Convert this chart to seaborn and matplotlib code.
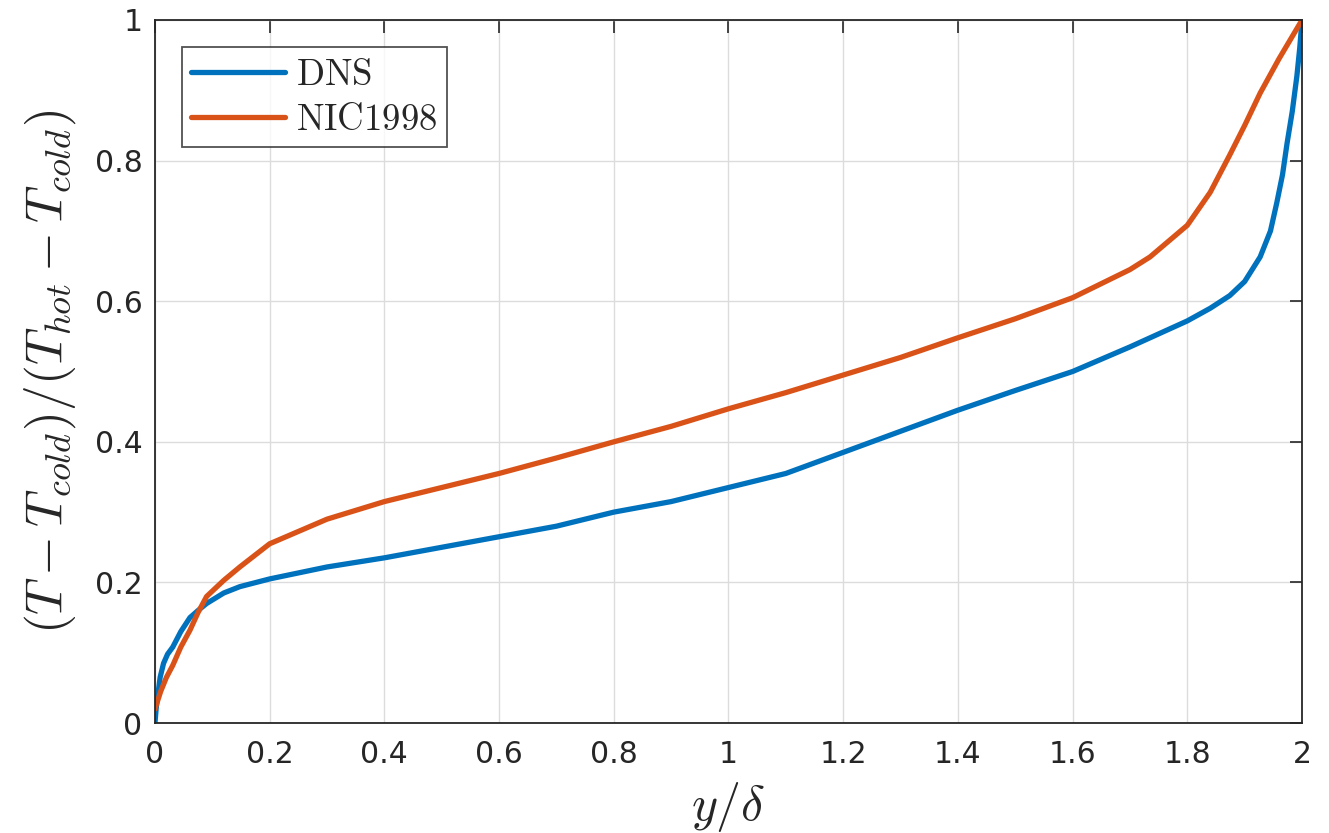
import numpy as np
import pandas as pd
import matplotlib
matplotlib.use("Agg")
import matplotlib.pyplot as plt
import seaborn as sns

# DNS profile
dns_x = [0.0, 0.002, 0.005, 0.009, 0.015, 0.022, 0.031, 0.045, 0.061, 0.075, 0.09, 0.12, 0.148, 0.2, 0.3, 0.4,
         0.5, 0.6, 0.7, 0.8, 0.9, 1.0, 1.1, 1.2, 1.3, 1.4, 1.5, 1.6, 1.7, 1.8, 1.84, 1.874, 1.9,
         1.927, 1.945, 1.956, 1.966, 1.974, 1.983, 1.991, 1.996, 2.0]
dns_y = [0.0, 0.02, 0.04, 0.065, 0.085, 0.098, 0.108, 0.13, 0.15, 0.16, 0.17, 0.185, 0.194, 0.205, 0.222, 0.235,
         0.25, 0.265, 0.28, 0.30, 0.315, 0.335, 0.355, 0.385, 0.415, 0.445, 0.473, 0.50, 0.535, 0.572, 0.59, 0.608, 0.628,
         0.663, 0.70, 0.74, 0.78, 0.825, 0.87, 0.92, 0.96, 1.0]

# NIC1998 model
nic_x = [0.0, 0.01, 0.02, 0.031, 0.045, 0.061, 0.075, 0.09, 0.12, 0.148, 0.2, 0.3, 0.4, 0.5, 0.6, 0.7,
         0.8, 0.9, 1.0, 1.1, 1.2, 1.3, 1.4, 1.5, 1.6, 1.7, 1.735, 1.8, 1.84, 1.874, 1.9, 1.927, 1.96, 2.0]
nic_y = [0.02, 0.045, 0.065, 0.082, 0.108, 0.132, 0.157, 0.18, 0.203, 0.222, 0.255, 0.29, 0.315, 0.335, 0.355, 0.377,
         0.40, 0.422, 0.447, 0.47, 0.495, 0.52, 0.548, 0.575, 0.605, 0.645, 0.663, 0.708, 0.755, 0.808, 0.85, 0.896, 0.945, 1.0]

series_names = ["DNS", "NIC1998"]

df = pd.concat([
    pd.DataFrame({"x": dns_x, "y": dns_y, "series": series_names[0]}),
    pd.DataFrame({"x": nic_x, "y": nic_y, "series": series_names[1]}),
], ignore_index=True)

sns.set_theme(style="white")
plt.rcParams["font.family"] = ["DejaVu Sans"]
plt.rcParams["mathtext.fontset"] = "cm"

fig = plt.figure(figsize=(13.29, 8.33), dpi=100)
ax = fig.add_axes([0.1166, 0.132, 0.8631, 0.844])

palette = {"DNS": "#0072BD", "NIC1998": "#D95319"}
sns.lineplot(data=df, x="x", y="y", hue="series", palette=palette, sort=False,
             linewidth=3.8, ax=ax, estimator=None)

ax.set_xlim(0, 2)
ax.set_ylim(0, 1)
ax.set_xticks(np.arange(0, 2.01, 0.2))
ax.set_yticks(np.arange(0, 1.01, 0.2))
ax.set_xticklabels(["0", "0.2", "0.4", "0.6", "0.8", "1", "1.2", "1.4", "1.6", "1.8", "2"])
ax.set_yticklabels(["0", "0.2", "0.4", "0.6", "0.8", "1"])
ax.grid(True, color="#dcdcdc", linewidth=1.0)
ax.set_axisbelow(True)
ax.tick_params(axis="both", which="both", direction="in", length=9, width=1.2,
               top=True, right=True, labelsize=21.5, colors="#262626")
ax.tick_params(axis="x", pad=12)
ax.tick_params(axis="y", pad=9)
for s in ax.spines.values():
    s.set_color("#262626")
    s.set_linewidth(1.3)

ax.set_xlabel(r"$y/\delta$", fontsize=36, labelpad=8)
ax.set_ylabel(r"$(T-T_{cold})/(T_{hot}-T_{cold})$", fontsize=37, labelpad=12)

handles, labels = ax.get_legend_handles_labels()
leg = ax.legend(handles, [r"$\mathrm{DNS}$", r"$\mathrm{NIC1998}$"], loc="upper left",
                bbox_to_anchor=(0.0235, 0.9616), borderaxespad=0.0, fontsize=26.5,
                frameon=True, fancybox=False, edgecolor="#262626", handlelength=2.55,
                borderpad=0.25, labelspacing=0.2, handletextpad=0.3)
leg.get_frame().set_linewidth(1.3)
for l in leg.get_lines():
    l.set_linewidth(3.8)

fig.savefig("out.png", dpi=100)
